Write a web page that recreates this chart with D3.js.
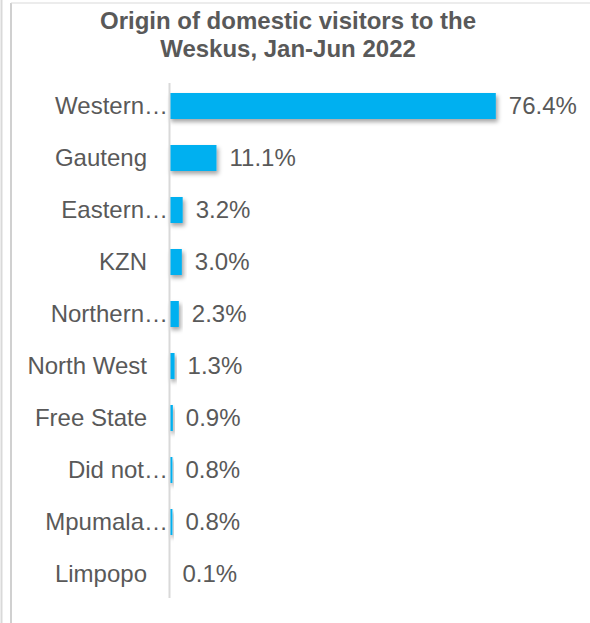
<!DOCTYPE html>
<html>
<head>
<meta charset="utf-8">
<script src="https://cdn.jsdelivr.net/npm/d3@7"></script>
<style>
  body { margin: 0; background: #fff; }
  svg { display: block; font-family: "Liberation Sans", Arial, sans-serif; }
</style>
</head>
<body>
<svg id="chart" width="590" height="623"></svg>
<script>
// data
const categories = ["Western…", "Gauteng", "Eastern…", "KZN", "Northern…",
                    "North West", "Free State", "Did not…", "Mpumala…", "Limpopo"];
const shares = [76.4, 11.1, 3.2, 3.0, 2.3, 1.3, 0.9, 0.8, 0.8, 0.1];
const titleLines = ["Origin of domestic visitors to the", "Weskus, Jan-Jun 2022"];

const W = 590, H = 623;
const textColor = "#595959";
const barColor = "#00B0F0";

const svg = d3.select("#chart");

// drop shadow under the bars
svg.append("defs").append("filter")
    .attr("id", "shadow")
    .attr("x", "-20%").attr("y", "-30%")
    .attr("width", "160%").attr("height", "180%")
    .append("feDropShadow")
    .attr("dx", 2).attr("dy", 3)
    .attr("stdDeviation", 2)
    .attr("flood-color", "#000")
    .attr("flood-opacity", 0.35);

// chart frame (left + top edges visible)
svg.append("line").attr("x1", 1.5).attr("x2", 1.5).attr("y1", 0).attr("y2", H)
    .attr("stroke", "#d9d9d9").attr("stroke-width", 2);
svg.append("line").attr("x1", 11).attr("x2", 11).attr("y1", 3).attr("y2", H)
    .attr("stroke", "#d0d0d0").attr("stroke-width", 2);
svg.append("line").attr("x1", 11).attr("x2", W).attr("y1", 3).attr("y2", 3)
    .attr("stroke", "#d9d9d9").attr("stroke-width", 1);

// title
svg.append("text")
    .attr("x", 288).attr("y", 29)
    .attr("text-anchor", "middle")
    .attr("fill", textColor)
    .style("font-size", "24px").style("font-weight", "bold")
    .selectAll("tspan")
    .data(titleLines)
    .join("tspan")
    .attr("x", 288)
    .attr("dy", (d, i) => i === 0 ? 0 : 28)
    .text(d => d);

// scales
const x = d3.scaleLinear().domain([0, 90]).range([169, 554]);
const y = d3.scaleBand().domain(categories).range([80, 600])
    .paddingInner(0.5).paddingOuter(0.25);

// bars
svg.append("g").selectAll("rect")
    .data(shares)
    .join("rect")
    .attr("x", x(0))
    .attr("y", (d, i) => y(categories[i]))
    .attr("width", d => x(d) - x(0))
    .attr("height", y.bandwidth())
    .attr("fill", barColor)
    .attr("filter", "url(#shadow)");

// category axis
const yAxis = svg.append("g")
    .attr("transform", "translate(" + x(0) + ",0)")
    .call(d3.axisLeft(y).tickSize(0).tickPadding(22).tickSizeOuter(0));
yAxis.select(".domain")
    .attr("d", "M0.5,83V598")
    .attr("stroke", "#d9d9d9").attr("stroke-width", 2);
yAxis.selectAll("text")
    .attr("fill", textColor)
    .style("font-size", "24px")
    .style("font-family", "'Liberation Sans', Arial, sans-serif")
    .attr("x", d => d.endsWith("…") ? -1 : -22);

// value labels
svg.append("g").selectAll("text")
    .data(shares)
    .join("text")
    .attr("x", d => x(d) + 13)
    .attr("y", (d, i) => y(categories[i]) + y.bandwidth() / 2)
    .attr("dy", "0.35em")
    .attr("fill", textColor)
    .style("font-size", "24px")
    .text(d => d.toFixed(1) + "%");
</script>
</body>
</html>
